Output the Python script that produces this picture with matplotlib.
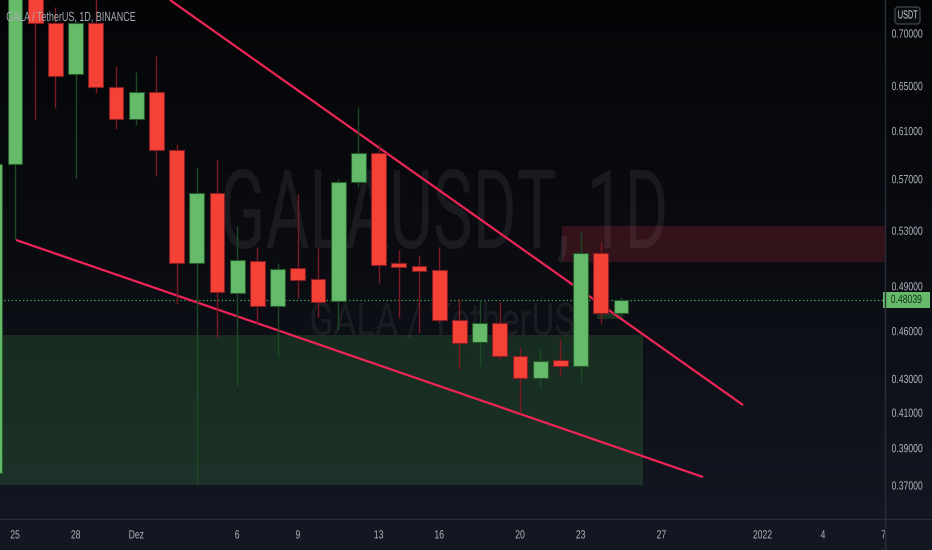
import numpy as np
import pandas as pd
import matplotlib
matplotlib.use("Agg")
import matplotlib.pyplot as plt
from matplotlib.patheffects import AbstractPathEffect
from matplotlib.transforms import Affine2D, Bbox, TransformedBbox, blended_transform_factory
from matplotlib.patches import FancyBboxPatch, Rectangle
from matplotlib.lines import Line2D
from matplotlib.colors import LinearSegmentedColormap
from matplotlib.ticker import NullLocator, NullFormatter

# ---------------- data ----------------
dates = pd.date_range("2021-11-24", "2021-12-25", freq="D")
opens = [0.3763, 0.5819, 0.7600, 0.7099, 0.6607, 0.7099, 0.6487, 0.6201, 0.6441, 0.5935,
         0.5061, 0.5586, 0.4851, 0.5075, 0.4764, 0.5025, 0.4948, 0.4797, 0.5673, 0.5910,
         0.5061, 0.5040, 0.5011, 0.4670, 0.4527, 0.4650, 0.4439, 0.4303, 0.4414, 0.4376,
         0.5132, 0.4717]
highs = [0.6000, 0.8000, 0.7800, 0.7261, 0.7120, 0.7450, 0.6682, 0.6625, 0.6777, 0.5985,
         0.5795, 0.5860, 0.5332, 0.5177, 0.5061, 0.5578, 0.5169, 0.5697, 0.6306, 0.5985,
         0.5154, 0.5118, 0.5177, 0.4810, 0.4803, 0.4790, 0.4495, 0.4489, 0.4546, 0.5287,
         0.5213, 0.4824]
lows = [0.3720, 0.5235, 0.6192, 0.6297, 0.5705, 0.6432, 0.6114, 0.6148, 0.5721, 0.4777,
        0.3711, 0.4559, 0.4255, 0.4643, 0.4432, 0.4817, 0.4690, 0.4605, 0.5634, 0.4920,
        0.4683, 0.4585, 0.4650, 0.4358, 0.4376, 0.4414, 0.4096, 0.4243, 0.4315, 0.4273,
        0.4643, 0.4717]
closes = [0.5819, 0.7600, 0.7099, 0.6588, 0.7099, 0.6487, 0.6201, 0.6441, 0.5935, 0.5061,
          0.5586, 0.4858, 0.5082, 0.4764, 0.5018, 0.4941, 0.4790, 0.5673, 0.5910, 0.5047,
          0.5033, 0.5004, 0.4670, 0.4521, 0.4650, 0.4439, 0.4303, 0.4407, 0.4376, 0.5132,
          0.4717, 0.48039]
last_price = 0.48039

upper_line_dates = ["2021-12-02 16:10", "2021-12-31 01:00"]
upper_line_prices = [0.7334, 0.4142]
lower_line_dates = ["2021-11-25 01:10", "2021-12-29 01:30"]
lower_line_prices = [0.5228, 0.3742]

green_zone_dates = ["2021-11-15", "2021-12-26 02:10"]
green_zone_prices = [0.3700, 0.4572]
red_zone_dates = ["2021-12-22 02:00", "2022-01-20"]
red_zone_prices = [0.5068, 0.5332]
small_zone_dates = ["2021-12-23 19:00", "2021-12-25 02:30"]
small_zone_prices = [0.4676, 0.4717]

y_ticks = [0.70, 0.65, 0.61, 0.57, 0.53, 0.49, 0.46, 0.43, 0.41, 0.39, 0.37]
y_tick_labels = ["0.70000", "0.65000", "0.61000", "0.57000", "0.53000", "0.49000",
                 "0.46000", "0.43000", "0.41000", "0.39000", "0.37000"]
x_tick_dates = ["2021-11-25", "2021-11-28", "2021-12-01", "2021-12-06", "2021-12-09",
                "2021-12-13", "2021-12-16", "2021-12-20", "2021-12-23", "2021-12-27",
                "2022-01-01", "2022-01-04", "2022-01-07"]
x_tick_labels = ["25", "28", "Dez", "6", "9", "13", "16", "20", "23", "27", "2022", "4", "7"]
x_range_dates = ["2021-11-24 06:10", "2022-01-07 01:40"]
y_range = [0.3527, 0.7334]

base = pd.Timestamp("2021-11-25")


def dnum(d):
    return (pd.to_datetime(d) - base) / pd.Timedelta("1D")


# ---------------- helpers ----------------
class Squeeze(AbstractPathEffect):
    """Horizontally condense glyphs (screenshot uses a narrow rendering)."""

    def __init__(self, sx, anchor="center"):
        super().__init__()
        self.sx = sx
        self.anchor = anchor

    def draw_path(self, renderer, gc, tpath, affine, rgbFace=None):
        ext = tpath.get_extents()
        if self.anchor == "left":
            cx = ext.x0
        elif self.anchor == "right":
            cx = ext.x1
        else:
            cx = 0.5 * (ext.x0 + ext.x1)
        t = Affine2D().translate(-cx, 0).scale(self.sx, 1.0).translate(cx, 0) + affine
        renderer.draw_path(gc, tpath, t, rgbFace)


W, H = 932, 550
fig = plt.figure(figsize=(W / 100, H / 100), dpi=100)

# background gradient
bgax = fig.add_axes([0, 0, 1, 1], zorder=-5)
grad = np.linspace(0, 1, 256).reshape(-1, 1)
cmap = LinearSegmentedColormap.from_list("bg", ["#040507", "#0b0d13", "#141823"])
bgax.imshow(grad, aspect="auto", cmap=cmap, extent=[0, 1, 0, 1], origin="upper")
bgax.set_axis_off()

ax = fig.add_axes([0, 31 / H, 885 / W, 519 / H])
ax.set_facecolor("none")
for s in ax.spines.values():
    s.set_visible(False)
ax.set_yscale("log")
ax.set_xlim(dnum(x_range_dates[0]), dnum(x_range_dates[1]))
ax.set_ylim(*y_range)

x = dnum(dates).values
o = np.array(opens)
h = np.array(highs)
l = np.array(lows)
c = np.array(closes)
up = c >= o

GREEN, RED = "#66bb6a", "#f44336"
GREEN_EDGE, RED_EDGE = "#25592c", "#8a1c24"
GREEN_WICK, RED_WICK = "#1d4a24", "#7a1a22"

# zones
gx0, gx1 = dnum(green_zone_dates[0]), dnum(green_zone_dates[1])
ax.add_patch(Rectangle((gx0, green_zone_prices[0]), gx1 - gx0,
                       green_zone_prices[1] - green_zone_prices[0],
                       facecolor="#4caf50", alpha=0.19, edgecolor="none", zorder=1))
rx0, rx1 = dnum(red_zone_dates[0]), dnum(red_zone_dates[1])
ax.add_patch(Rectangle((rx0, red_zone_prices[0]), rx1 - rx0,
                       red_zone_prices[1] - red_zone_prices[0],
                       facecolor="#f23645", alpha=0.18, edgecolor="none", zorder=1))
sx0, sx1 = dnum(small_zone_dates[0]), dnum(small_zone_dates[1])
ax.add_patch(Rectangle((sx0, small_zone_prices[0]), sx1 - sx0,
                       small_zone_prices[1] - small_zone_prices[0],
                       facecolor="#4caf50", alpha=0.22, edgecolor="none", zorder=1))

# watermarks
ax.text(444 / 885, 1 - 248 / 519, "GALAUSDT, 1D", transform=ax.transAxes,
        ha="center", va="baseline", fontsize=79, family="Roboto",
        color="white", alpha=0.065, zorder=1.5,
        path_effects=[Squeeze(0.612)])
ax.text(442 / 885, 1 - 335 / 519, "GALA / TetherUS", transform=ax.transAxes,
        ha="center", va="baseline", fontsize=32.5, family="Roboto",
        color="white", alpha=0.06, zorder=1.5,
        path_effects=[Squeeze(0.78)])

# last price dotted line
ax.axhline(last_price, color="#4caf50", lw=0.9, ls=(0, (1, 2)), zorder=2)

# trend lines
ax.plot(dnum(upper_line_dates), upper_line_prices, color="#ee2556", lw=1.6,
        solid_capstyle="butt", zorder=2.5)
ax.plot(dnum(lower_line_dates), lower_line_prices, color="#ee2556", lw=1.6,
        solid_capstyle="butt", zorder=2.5)

# candles
ax.vlines(x, l, h, colors=np.where(up, GREEN_WICK, RED_WICK), linewidth=1.0, zorder=3)
bottoms = np.minimum(o, c)
heights = np.maximum(np.abs(c - o), 0.0008)
ax.bar(x, heights, bottom=bottoms, width=0.74,
       color=np.where(up, GREEN, RED), edgecolor=np.where(up, GREEN_EDGE, RED_EDGE),
       linewidth=0.8, zorder=4)

# header
ax.text(6 / 885, 1 - 18 / 519, "GALA / TetherUS, 1D, BINANCE", transform=ax.transAxes,
        ha="left", va="center", fontsize=9.5, family="Liberation Sans",
        color="#a9acb5", zorder=10, path_effects=[Squeeze(0.68, "left")])

# axes ticks
ax.yaxis.tick_right()
ax.set_yticks(y_ticks, y_tick_labels)
ax.yaxis.set_minor_locator(NullLocator())
ax.yaxis.set_minor_formatter(NullFormatter())
ax.tick_params(axis="y", which="both", length=0, pad=0.6, labelsize=8.5,
               labelcolor="#b2b5be")
ax.set_xticks(dnum(x_tick_dates), x_tick_labels)
ax.tick_params(axis="x", which="both", length=0, pad=7.5, labelsize=8.5,
               labelcolor="#b2b5be")
clipbox = TransformedBbox(Bbox([[0, 0], [885 / W, 1]]), fig.transFigure)
for lab in ax.get_yticklabels():
    lab.set_family("Liberation Sans")
    lab.set_path_effects([Squeeze(0.73)])
for lab in ax.get_xticklabels():
    lab.set_family("Liberation Sans")
    lab.set_path_effects([Squeeze(0.73)])
    lab.set_clip_box(clipbox)
    lab.set_clip_on(True)

# separators
fig.add_artist(Line2D([885 / W, 885 / W], [0, 1], transform=fig.transFigure,
                      color="#2a2e39", lw=1.0))
fig.add_artist(Line2D([0, 1], [31 / H, 31 / H], transform=fig.transFigure,
                      color="#2a2e39", lw=1.0))

# last price label
ax.text(1.0, last_price, "%.5f" % last_price,
        transform=blended_transform_factory(ax.transAxes, ax.transData),
        ha="left", va="center", fontsize=8.5, family="Liberation Sans",
        color="#14321a", clip_on=False, zorder=10,
        bbox=dict(boxstyle="square,pad=0.18", fc="#66bb6a", ec="none"),
        path_effects=[Squeeze(0.73)])

# currency box
fig.patches.append(FancyBboxPatch((8.95, (H - 24) / 100), 0.25, 0.17,
                                  boxstyle="round,pad=0,rounding_size=0.03",
                                  transform=fig.dpi_scale_trans,
                                  fc="#0b0d12", ec="#434651", lw=0.9))
fig.text(907.5 / W, 1 - 15.5 / H, "USDT", ha="center", va="center", fontsize=8.5,
         family="Liberation Sans", color="#d1d4dc", path_effects=[Squeeze(0.62)])

fig.savefig("out.png", dpi=100, facecolor="#0b0d13")
